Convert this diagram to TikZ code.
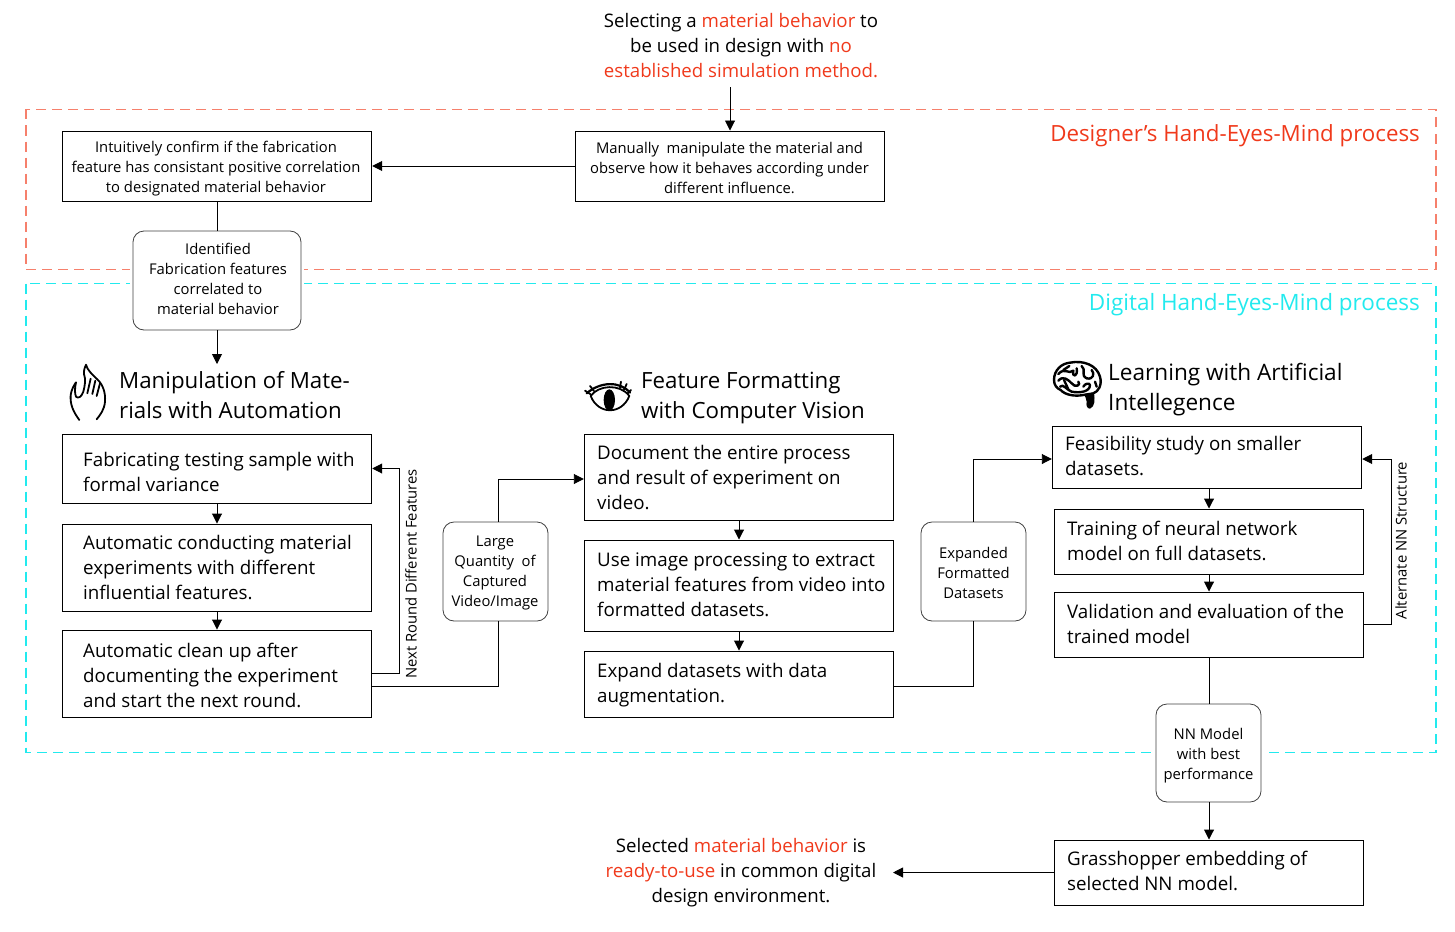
\documentclass[tikz,border=0pt]{standalone}
\usepackage{fontspec}
\setmainfont{Open Sans}
\usetikzlibrary{arrows.meta,calc}
\definecolor{hl}{HTML}{F0391B}
\definecolor{cy}{HTML}{22EAEE}
\definecolor{rd}{HTML}{F6806C}
\newcommand{\hlt}[1]{\textcolor{hl}{#1}}
\tikzset{
  box/.style={draw=black,line width=0.95pt,fill=white,inner sep=0pt,minimum width=309.5pt},
  rbox/.style={draw=black!75,line width=0.8pt,fill=white,inner sep=0pt,rounded corners=11pt},
  big/.style={inner sep=0pt,align=left,font=\fontsize{18.75}{25}\selectfont},
  small/.style={inner sep=0pt,align=center,font=\fontsize{14.8}{20}\selectfont},
  head/.style={inner sep=0pt,align=left,anchor=west,font=\fontsize{22.3}{30}\selectfont},
  plain/.style={inner sep=0pt,align=center,font=\fontsize{18.65}{25}\selectfont},
  side/.style={inner sep=0pt,rotate=90,font=\fontsize{14.8}{18}\selectfont},
  conn/.style={draw=black,line width=0.95pt},
  arr/.style={conn,-{Triangle[length=10pt,width=10pt]}},
  frame/.style={line width=1.3pt,dash pattern=on 10pt off 6pt},
  icon/.style={line width=1.8pt,line cap=round,line join=round}
}
\begin{document}
\begin{tikzpicture}[x=1pt,y=-1pt]
\useasboundingbox (0,0) rectangle (1455,931);
% frames
\draw[frame,draw=rd] (26,109.5) rectangle (1436,269.5);
\draw[frame,draw=cy,line width=1.6pt] (26,283.5) rectangle (1436,752.5);
\node[anchor=east,inner sep=0pt,font=\fontsize{22.3}{28}\selectfont,text=hl] (t1) at (1420,136) {Designer’s Hand-Eyes-Mind process};
\node[anchor=east,inner sep=0pt,font=\fontsize{22.5}{28}\selectfont,text=cy] (t2) at (1420,305) {Digital Hand-Eyes-Mind process};
% top and bottom text
\node[plain,minimum height=79pt,anchor=north] (top) at (741,8) {};
\node[plain] (toptext) at (741,46) {Selecting a \hlt{material behavior} to\\be used in design with \hlt{no}\\\hlt{established simulation method.}};
\node[plain] (bot) at (741,873) {Selected \hlt{material behavior} is\\\hlt{ready-to-use} in common digital\\design environment.};
% boxes
\node[box,minimum height=70pt] (b1) at (217,166) {};
\node[box,minimum height=70pt] (b2) at (730,166) {};
\node[box,minimum height=69pt] (m1) at (217,468.5) {};
\node[box,minimum height=87pt] (m2) at (217,567.5) {};
\node[box,minimum height=87pt] (m3) at (217,673.5) {};
\node[box,minimum height=86pt] (f1) at (739,477) {};
\node[box,minimum height=91pt] (f2) at (739,585.5) {};
\node[box,minimum height=66pt] (f3) at (739,684) {};
\node[box,minimum height=62pt] (l1) at (1207,457) {};
\node[box,minimum height=65pt] (l2) at (1209,541.5) {};
\node[box,minimum height=65pt] (l3) at (1209,624.5) {};
\node[box,minimum height=65pt] (l4) at (1209,872.5) {};
% rounded boxes
\fill[white] (130,262) rectangle (304,290);
\fill[white] (1153,748) rectangle (1264,758);
\node[rbox,minimum width=168pt,minimum height=99pt] (r1) at (217,280.5) {};
\node[rbox,minimum width=105pt,minimum height=99pt] (r2) at (495.5,571.5) {};
\node[rbox,minimum width=105pt,minimum height=99pt] (r3) at (973.5,571.5) {};
\node[rbox,minimum width=105pt,minimum height=98pt] (r4) at (1208.5,753) {};
% box texts
\node[small] (b1t) at (216,169) {Intuitively confirm if the fabrication\\feature has consistant positive correlation\\to designated material behavior};
\node[small] (b2t) at (729.5,168) {Manually\ \ manipulate the material and\\observe how it behaves according under\\different influence.};
\node[small] (r1t) at (218,279) {Identified\\Fabrication features\\correlated to\\material behavior};
\node[small] (r2t) at (495,573) {Large\\Quantity\ \ of\\Captured\\Video/Image};
\node[small] (r3t) at (973.5,573) {Expanded\\Formatted\\Datasets};
\node[small] (r4t) at (1208.5,756) {NN Model\\with best\\performance};
\node[big,anchor=west] (m1t) at (83,471.5) {Fabricating testing sample with\\formal variance};
\node[big,anchor=west] (m2t) at (83,568) {Automatic conducting material\\experiments with different\\influential features.};
\node[big,anchor=west] (m3t) at (83,675) {Automatic clean up after\\documenting the experiment\\and start the next round.};
\node[big,anchor=west] (f1t) at (597,478) {Document the entire process\\and result of experiment on\\video.};
\node[big,anchor=west] (f2t) at (597,585) {Use image processing to extract\\material features from video into\\formatted datasets.};
\node[big,anchor=west] (f3t) at (597,685) {Expand datasets with data\\augmentation.};
\node[big,anchor=west] (l1t) at (1065,456) {Feasibility study on smaller\\datasets.};
\node[big,anchor=west] (l2t) at (1067,541) {Training of neural network\\model on full datasets.};
\node[big,anchor=west] (l3t) at (1067,624) {Validation and evaluation of the\\trained model};
\node[big,anchor=west] (l4t) at (1067,871) {Grasshopper embedding of\\selected NN model.};
% headings
\node[head] (h1) at (119,395) {Manipulation of Mate-\\rials with Automation};
\node[head] (h2) at (641,398) {Feature Formatting\\with Computer Vision};
\node[head,font=\fontsize{22.6}{30}\selectfont] (h3) at (1108,390) {Learning with Artificial\\Intellegence};
% side labels
\node[side] (s1) at (411,574) {Next Round Different Features};
\node[side] (s2) at (1401,540.5) {Alternate NN Structure};
% connectors
\coordinate (c1) at (217,364);
\coordinate (e1) at (893,872.5);
\draw[arr] (top.south -| b2.north) -- (b2.north);
\draw[arr] (b2.west) -- (b1.east);
\draw[conn] (b1.south) -- (r1.north);
\draw[arr] (r1.south) -- (c1);
\draw[arr] (m1.south) -- (m2.north);
\draw[arr] (m2.south) -- (m3.north);
\draw[arr] (m3.east) -- ++(27,0) |- (m1.east);
\draw[conn] ([yshift=-12.5pt]m3.east) -| ([xshift=2.5pt]r2.south);
\draw[arr] ([xshift=2.5pt]r2.north) |- ([yshift=-2pt]f1.west);
\draw[arr] (f1.south) -- (f2.north);
\draw[arr] (f2.south) -- (f3.north);
\draw[conn] ([yshift=-2pt]f3.east) -| (r3.south);
\draw[arr] (r3.north) |- ([yshift=-2pt]l1.west);
\draw[arr] (l2.north |- l1.south) -- (l2.north);
\draw[arr] (l2.south) -- (l3.north);
\draw[arr] (l3.east) -- ++(27,0) |- ([yshift=-2pt]l1.east);
\draw[conn] (l3.south) -- (l3.south |- r4.north);
\draw[arr] (r4.south -| l4.north) -- (l4.north);
\draw[arr] (l4.west) -- (e1);
% hand icon
\begin{scope}[shift={(40,350)},x=0.3333pt,y=-0.3333pt,icon]
\draw (118,210) .. controls (100,185) and (90,165) .. (92,135) .. controls (94,120) and (102,105) .. (108,97) .. controls (104,115) and (104,130) .. (108,140) .. controls (115,147) and (125,140) .. (130,125) .. controls (135,105) and (138,90) .. (132,72) .. controls (131,60) and (135,50) .. (138,44) .. controls (142,60) and (155,72) .. (172,88) .. controls (190,105) and (197,130) .. (195,155) .. controls (193,180) and (180,195) .. (170,208);
\draw (142,130) -- (152,86);
\draw (157,132) -- (166,92);
\draw (170,138) -- (180,100);
\end{scope}
% eye icon
\begin{scope}[shift={(570,360)},x=0.3333pt,y=-0.3333pt,icon]
\draw (62,108) .. controls (85,75) and (150,70) .. (178,108) .. controls (155,165) and (85,165) .. (62,108) -- cycle;
\draw[line width=2.2pt] (50,100) .. controls (90,65) and (150,62) .. (180,98);
\fill (118,120) ellipse [x radius=17,y radius=32];
\draw (45,92) -- (62,103);
\draw (60,78) -- (72,93);
\draw (153,65) -- (150,83);
\draw (170,72) -- (162,90);
\draw (183,90) -- (173,100);
\end{scope}
% brain icon
\begin{scope}[shift={(1040,350)},x=0.3333pt,y=-0.3333pt,icon]
\draw[line width=2.4pt,fill=white] (42,90) .. controls (42,60) and (65,40) .. (90,38) .. controls (130,30) and (170,45) .. (180,80) .. controls (187,105) and (175,125) .. (160,130) -- (130,135) .. controls (105,140) and (75,135) .. (62,120) .. controls (50,115) and (42,105) .. (42,90) -- cycle;
\fill (132,132) -- (162,128) .. controls (165,150) and (165,170) .. (150,176) .. controls (140,176) and (138,165) .. (140,155) .. controls (140,148) and (135,140) .. (132,132) -- cycle;
\draw[line width=2.4pt] (55,72) .. controls (75,50) and (85,75) .. (100,62) .. controls (95,85) and (115,80) .. (110,55);
\draw[line width=2.4pt] (55,92) .. controls (70,75) and (85,90) .. (95,100) .. controls (105,115) and (125,105) .. (115,95);
\draw[line width=2.4pt] (125,48) .. controls (140,60) and (120,75) .. (140,85) .. controls (160,90) and (165,70) .. (155,60);
\draw[line width=2.4pt] (60,110) .. controls (70,100) and (80,120) .. (95,125) .. controls (120,130) and (150,125) .. (150,105) .. controls (148,98) and (135,100) .. (130,110);
\draw[line width=2.4pt] (72,90) -- (85,118);
\draw[line width=2.4pt] (70,60) -- (88,48);
\draw[line width=2.4pt] (165,95) -- (170,110);
\end{scope}
\end{tikzpicture}
\end{document}
